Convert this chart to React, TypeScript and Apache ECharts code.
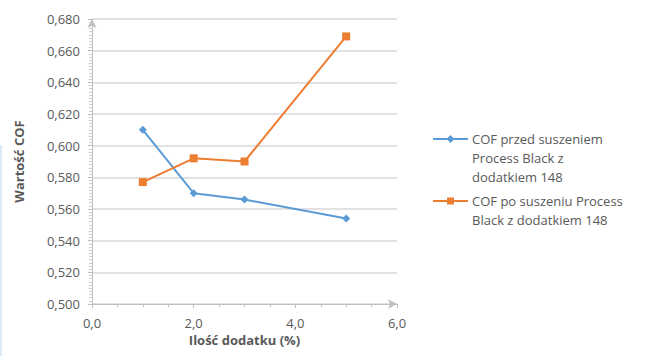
import React, { useEffect, useRef } from "react";
import * as echarts from "echarts";

const xValues = [1, 2, 3, 5];
const seriesNames = [
  "COF przed suszeniem\nProcess Black z\ndodatkiem 148",
  "COF po suszeniu Process\nBlack z dodatkiem 148",
];
const beforeValues = [0.61, 0.57, 0.566, 0.554];
const afterValues = [0.577, 0.592, 0.59, 0.669];
const colors = ["#5b9bd5", "#ed7d31"];
const xTitle = "Ilość dodatku (%)";
const yTitle = "Wartość COF";

const fmt = (v: number, d: number) => v.toFixed(d).replace(".", ",");

export default function App() {
  const ref = useRef<HTMLDivElement>(null);
  useEffect(() => {
    if (!ref.current) return;
    const chart = echarts.init(ref.current, undefined, { renderer: "svg" });
    const font = "'Open Sans', 'Noto Sans', sans-serif";
    const textColor = "#595959";
    const legendTop = [139, 201];
    chart.setOption({
      animation: false,
      textStyle: { fontFamily: font },
      grid: { left: 92, top: 19, width: 305, height: 285, containLabel: false },
      xAxis: {
        type: "value",
        min: 0,
        max: 6,
        interval: 2,
        name: xTitle,
        nameLocation: "middle",
        nameGap: 28,
        nameTextStyle: { color: textColor, fontSize: 13, fontWeight: "bold", fontFamily: font },
        axisLine: { lineStyle: { color: "#bfbfbf", width: 1 }, symbol: ["none", "arrow"], symbolSize: [7, 9] },
        axisTick: { show: true, lineStyle: { color: "#bfbfbf" }, length: 4 },
        minorTick: { show: true, splitNumber: 4, length: 3, lineStyle: { color: "#bfbfbf" } },
        splitLine: { show: false },
        axisLabel: { color: textColor, fontSize: 13, margin: 12, formatter: (v: number) => fmt(v, 1) },
      },
      yAxis: {
        type: "value",
        min: 0.5,
        max: 0.68,
        interval: 0.02,
        name: yTitle,
        nameLocation: "middle",
        nameGap: 67,
        nameTextStyle: { color: textColor, fontSize: 13, fontWeight: "bold", fontFamily: font },
        axisLine: { show: true, lineStyle: { color: "#bfbfbf", width: 1 }, symbol: ["none", "arrow"], symbolSize: [7, 9] },
        axisTick: { show: true, lineStyle: { color: "#bfbfbf" }, length: 4 },
        minorTick: { show: true, splitNumber: 10, length: 3, lineStyle: { color: "#d0d0d0" } },
        splitLine: { show: true, lineStyle: { color: "#d9d9d9", width: 1.5 } },
        axisLabel: { color: textColor, fontSize: 13, margin: 12, formatter: (v: number) => fmt(v, 3) },
      },
      series: [
        {
          name: seriesNames[0],
          type: "line",
          data: xValues.map((x, i) => [x, beforeValues[i]]),
          symbol: "diamond",
          symbolSize: 8,
          lineStyle: { color: colors[0], width: 2 },
          itemStyle: { color: colors[0] },
        },
        {
          name: seriesNames[1],
          type: "line",
          data: xValues.map((x, i) => [x, afterValues[i]]),
          symbol: "rect",
          symbolSize: 8,
          lineStyle: { color: colors[1], width: 2 },
          itemStyle: { color: colors[1] },
        },
      ],
      graphic: [
        { type: "line", shape: { x1: 1, y1: 145, x2: 1, y2: 356 }, style: { stroke: "#cfe3f5", lineWidth: 1.5 } },
        ...seriesNames.flatMap((name, i) => [
          { type: "line", shape: { x1: 433, y1: legendTop[i], x2: 468, y2: legendTop[i] }, style: { stroke: colors[i], lineWidth: 2 } },
          i === 0
            ? { type: "polygon", shape: { points: [[450.5, legendTop[i] - 4], [454.5, legendTop[i]], [450.5, legendTop[i] + 4], [446.5, legendTop[i]]] }, style: { fill: colors[i] } }
            : { type: "rect", shape: { x: 447, y: legendTop[i] - 3.5, width: 7, height: 7 }, style: { fill: colors[i] } },
          {
            type: "text",
            x: 472,
            y: legendTop[i] - 9.5,
            style: { text: name, fill: textColor, font: `13px ${font}`, lineHeight: 19 },
          },
        ]),
      ],
    });
    return () => chart.dispose();
  }, []);
  return <div ref={ref} style={{ position: "absolute", left: 0, top: 0, width: 648, height: 356 }} />;
}
